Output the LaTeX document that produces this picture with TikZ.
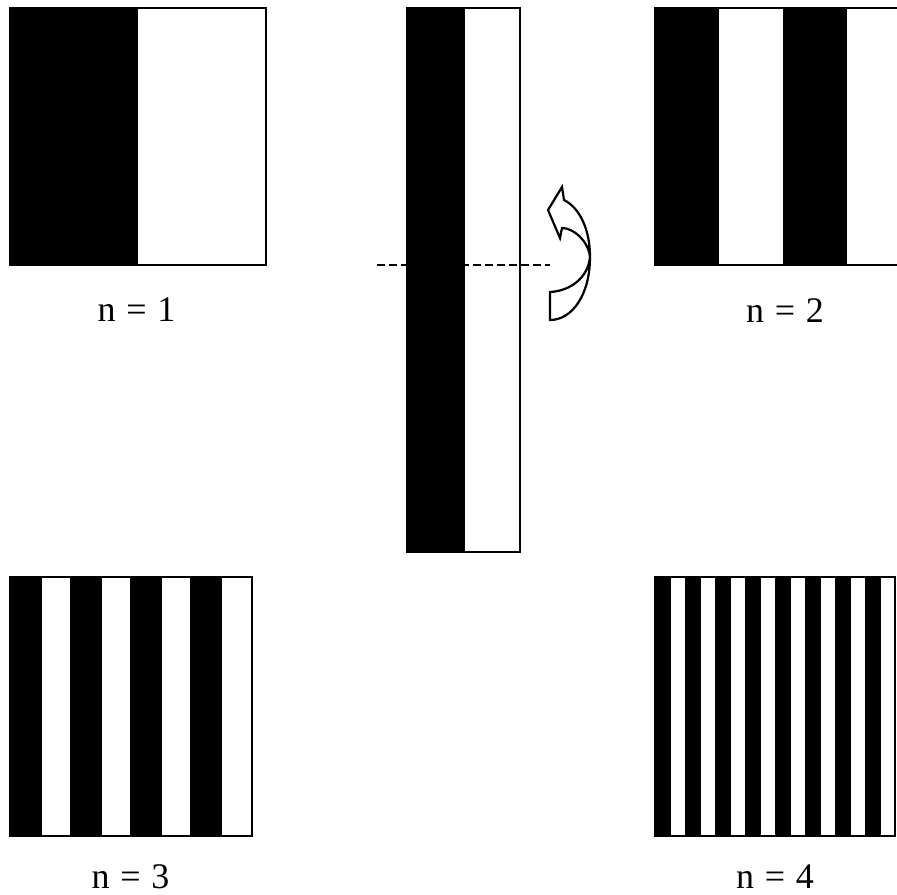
\documentclass[tikz,border=0pt]{standalone}
\usepackage{fontspec}
\setmainfont{Liberation Serif}
\begin{document}
\begin{tikzpicture}[x=0.5pt,y=-0.5pt,
  frame/.style={draw=black,line width=0.75pt},
  bar/.style={fill=black},
  lab/.style={font=\fontsize{18}{20}\selectfont, anchor=base},
  foldline/.style={draw=black,line width=0.75pt,dash pattern=on 4pt off 2pt}]
\useasboundingbox (0,0) rectangle (897,894);
\clip (0,0) rectangle (897,894);
% n = 1
\fill[bar] (10,8) rectangle (138,265);
\draw[frame] (10,8) rectangle (266,265);
\node[lab] (l1) at (136.5,321) {n\hspace{0.3em}=\hspace{0.3em}1};
% middle strip
\fill[bar] (407,8) rectangle (465,552);
\draw[frame] (407,8) rectangle (520,552);
\coordinate (dl) at (377,265);
\coordinate (dr) at (550,265);
\draw[foldline] (dl) -- (dr);
% curved twisted arrow
\draw[line width=1.1pt, fill=white, line join=miter]
  (562,187) -- (548,210) -- (560,238) -- (562,228)
  .. controls (573,228) and (588,240) .. (590,257)
  .. controls (588,278) and (570,291) .. (550,292)
  -- (550,320)
  .. controls (572,320) and (590,295) .. (590,257)
  .. controls (590,230) and (580,208) .. (564,200)
  -- cycle;
% n = 2
\foreach \k in {0,1} \fill[bar] ({655+128*\k},8) rectangle ({719+128*\k},265);
\draw[frame] (655,8) rectangle (911,265);
\node[lab] (l2) at (785,322) {n\hspace{0.3em}=\hspace{0.3em}2};
% n = 3
\foreach \k in {0,...,3} \fill[bar] ({10+60*\k},577) rectangle ({42+60*\k},836);
\draw[frame] (10,577) rectangle (252,836);
\node[lab] (l3) at (130.5,888) {n\hspace{0.3em}=\hspace{0.3em}3};
% n = 4
\foreach \k in {0,...,7} \fill[bar] ({655+30*\k},577) rectangle ({671+30*\k},836);
\draw[frame] (655,577) rectangle (895,836);
\node[lab] (l4) at (775,888) {n\hspace{0.3em}=\hspace{0.3em}4};
\end{tikzpicture}
\end{document}
